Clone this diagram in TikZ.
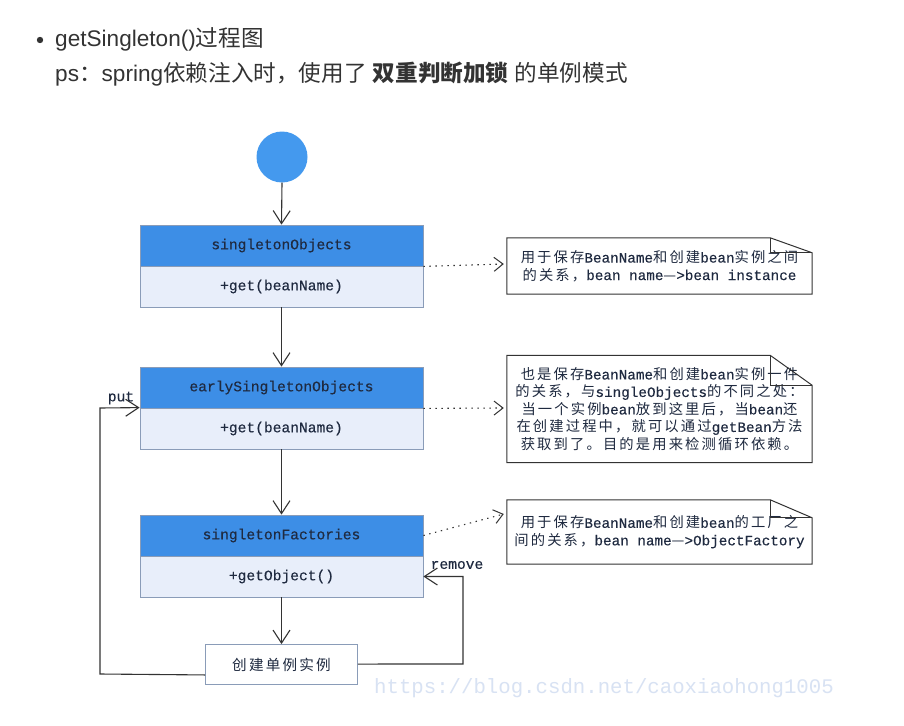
\documentclass[tikz,border=0pt]{standalone}
\usepackage{fontspec}
\usetikzlibrary{arrows.meta,calc}
\setmainfont{Liberation Sans}
\newfontfamily\monofont[FakeBold=0.3]{Liberation Mono}
\newfontfamily\wmfont{Liberation Mono}
\newfontfamily\cjkfont[LetterSpace=15]{Noto Sans CJK SC}
\newfontfamily\cjkhead{Noto Sans CJK SC}
\newcommand\Cj[1]{{\cjkfont #1}}
\newcommand\Hc[1]{{\cjkhead #1}}
\definecolor{headblue}{HTML}{3D8EE6}
\definecolor{bodyblue}{HTML}{E8EEFA}
\definecolor{boxborder}{HTML}{8A9CB8}
\definecolor{circleblue}{HTML}{4499EE}
\definecolor{linegray}{HTML}{333333}
\definecolor{txtdark}{HTML}{1F2A40}
\definecolor{headtxt}{HTML}{333333}
\definecolor{wmark}{HTML}{D8E2F3}
\tikzset{
  hdr/.style={rectangle, fill=headblue, draw=boxborder, line width=0.8pt, minimum width=283pt, minimum height=41pt, inner sep=0pt, font=\monofont\fontsize{14.6}{16}\selectfont, text=txtdark},
  bdy/.style={rectangle, fill=bodyblue, draw=boxborder, line width=0.8pt, minimum width=283pt, minimum height=41pt, inner sep=0pt, font=\monofont\fontsize{14.6}{16}\selectfont, text=txtdark},
  notetxt/.style={rectangle, minimum width=305pt, inner sep=0pt, align=center, font=\monofont\fontsize{14.3}{17.5}\selectfont, text=txtdark},
  noteline/.style={draw=linegray, line width=1pt},
  flow/.style={draw=linegray, line width=1.1pt, -{Straight Barb[length=13pt,width=17pt,line width=1.1pt]}},
  dotarrow/.style={draw=linegray, line width=1.1pt, dash pattern=on 1.4pt off 4.6pt, -{Straight Barb[length=9pt,width=14pt,line width=1pt,sep=0pt]}},
  lbl/.style={font=\monofont\fontsize{14.6}{16}\selectfont, text=txtdark, inner sep=0pt}
}
\begin{document}
\begin{tikzpicture}[x=1pt,y=-1pt]
\useasboundingbox[fill=white] (0,0) rectangle (904,725);
% heading
\fill[headtxt] (40,40) circle (3.2pt);
\node[anchor=west, inner sep=0pt, text=headtxt, font=\fontsize{22.6}{26}\selectfont] (title) at (55,39) {getSingleton()\Hc{过程图}};
\node[anchor=west, inner sep=0pt, text=headtxt, font=\fontsize{22.6}{26}\selectfont] (ps) at (55,74) {ps\Hc{：}spring\Hc{依赖注入时，使用了} {\cjkhead\bfseries 双重判断加锁} \Hc{的单例模式}};
% start
\node[circle, fill=circleblue, minimum size=51pt, inner sep=0pt] (start) at (282,157) {};
% boxes
\node[hdr] (soH) at (281.5,245.5) {singletonObjects};
\node[bdy] (soB) at (281.5,286.5) {+get(beanName)};
\node[hdr] (esH) at (281.5,387.5) {earlySingletonObjects};
\node[bdy] (esB) at (281.5,428.5) {+get(beanName)};
\node[hdr] (sfH) at (281.5,535.5) {singletonFactories};
\node[bdy] (sfB) at (281.5,576.5) {+getObject()};
\node[rectangle, draw=boxborder, fill=white, line width=0.9pt, minimum width=152pt, minimum height=40pt, inner sep=0pt, font=\cjkfont\fontsize{14.6}{16}\selectfont, text=txtdark] (create) at (281.5,664.5) {创建单例实例};
% flow arrows
\draw[flow] (start.south) -- (soH.north);
\draw[flow] (soB.south) -- (esH.north);
\draw[flow] (esB.south) -- (sfH.north);
\draw[flow] (sfB.south) -- (create.north);
\coordinate (putL) at (100,674);
\coordinate (putT) at (100,408);
\draw[flow] ($(create.south west)+(0,-10)$) -- (putL) -- (putT) -- (esB.north west);
\node[lbl] (put) at (121,398) {put};
\coordinate (remR) at (463,664);
\coordinate (remT) at (463,576.5);
\draw[flow] ($(create.north east)+(0,20)$) -- (remR) -- (remT) -- (sfB.east);
\node[lbl] (remove) at (457,565) {remove};
% notes
\node[notetxt, minimum height=56pt] (n1) at (659.5,266) {\Cj{用于保存}BeanName\Cj{和创建}bean\Cj{实例之间}\\\Cj{的关系，}bean name\Cj{—}>bean instance};
\node[notetxt, minimum height=107pt] (n2) at (659.5,409) {\Cj{也是保存}BeanName\Cj{和创建}bean\Cj{实例一件}\\\Cj{的关系，与}singleObjects\Cj{的不同之处：}\\\Cj{当一个实例}bean\Cj{放到这里后，当}bean\Cj{还}\\\Cj{在创建过程中，就可以通过}getBean\Cj{方法}\\\Cj{获取到了。目的是用来检测循环依赖。}};
\node[notetxt, minimum height=64pt] (n3) at (659.5,532) {\Cj{用于保存}BeanName\Cj{和创建}bean\Cj{的工厂之}\\\Cj{间的关系，}bean name\Cj{—}>ObjectFactory};
\foreach \n/\f in {n1/15, n2/30, n3/18}{
  \draw[noteline] (\n.north west) -- ($(\n.north east)+(-42,0)$) -- ($(\n.north east)+(0,\f)$) -- (\n.south east) -- (\n.south west) -- cycle;
  \draw[noteline] ($(\n.north east)+(-42,0)$) -- ($(\n.north east)+(-42,\f)$) -- ($(\n.north east)+(0,\f)$);
}
\draw[dotarrow] (soH.south east) -- ($(n1.west)+(-3,-2)$);
\draw[dotarrow] (esH.south east) -- ($(n2.west)+(-3,-1)$);
\draw[dotarrow] (sfH.east) -- ($(n3.west)+(-3,-18)$);
% watermark
\node[anchor=west, inner sep=0pt, text=wmark, font=\wmfont\fontsize{20.7}{24}\selectfont] (wm) at (374,688) {https://blog.csdn.net/caoxiaohong1005};
\end{tikzpicture}
\end{document}
